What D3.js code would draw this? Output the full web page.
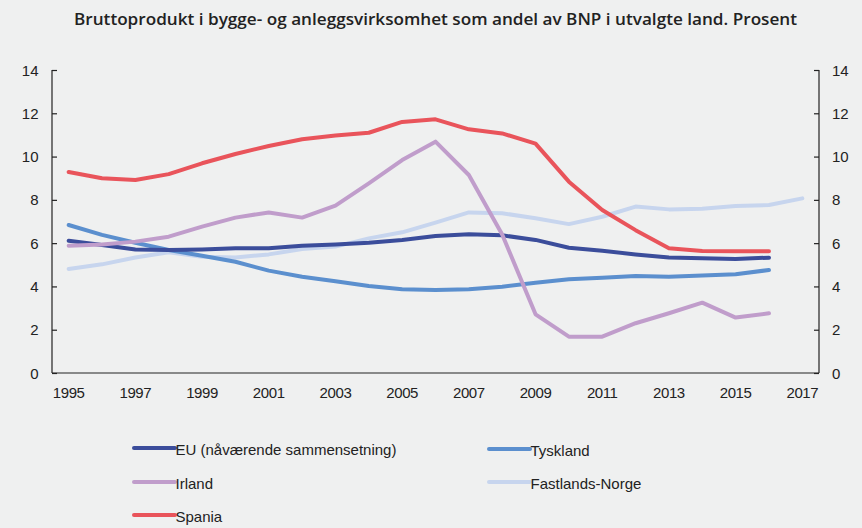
<!DOCTYPE html>
<html><head><meta charset="utf-8">
<script src="https://cdn.jsdelivr.net/npm/d3@7"></script>
<style>
html,body{margin:0;padding:0;background:#eff0f0;}
svg{display:block;}
</style></head>
<body>
<svg id="c" width="862" height="528"></svg>
<script>
const years = d3.range(1995, 2018);
const tickYears = [1995,1997,1999,2001,2003,2005,2007,2009,2011,2013,2015,2017];
const yTicks = [0,2,4,6,8,10,12,14];
const seriesNames = ["EU (nåværende sammensetning)","Tyskland","Irland","Fastlands-Norge","Spania"];
const seriesColors = ["#3b4d9b","#5b8fce","#c09dcb","#c7d5ee","#e9545b"];
const eu = [6.11,5.91,5.71,5.68,5.71,5.76,5.76,5.88,5.94,6.02,6.15,6.33,6.41,6.36,6.15,5.79,5.65,5.48,5.34,5.30,5.27,5.33,null];
const tyskland = [6.84,6.38,6.02,5.68,5.42,5.14,4.73,4.45,4.24,4.02,3.87,3.83,3.87,3.99,4.17,4.33,4.40,4.48,4.45,4.50,4.56,4.76,null];
const irland = [5.88,5.94,6.07,6.30,6.76,7.18,7.42,7.18,7.73,8.76,9.84,10.69,9.15,6.40,2.71,1.68,1.68,2.30,2.76,3.25,2.56,2.76,null];
const norge = [4.81,5.02,5.34,5.58,5.37,5.34,5.48,5.73,5.84,6.22,6.50,6.95,7.42,7.38,7.15,6.88,7.22,7.69,7.56,7.59,7.72,7.76,8.07];
const spania = [9.29,9.00,8.92,9.19,9.69,10.12,10.49,10.80,10.97,11.10,11.60,11.72,11.26,11.07,10.60,8.84,7.53,6.60,5.76,5.64,5.62,5.62,null];
const seriesValues = [eu,tyskland,irland,norge,spania];
const drawOrder = [3,1,0,2,4];

const svg = d3.select("#c");
const L = 52, R = 819, T = 70, B = 373;
const x = d3.scaleBand().domain(years).range([L, R]);
const y = d3.scaleLinear().domain([0,14]).range([B, T]);

svg.append("text").attr("x", 435.5).attr("y", 25).attr("text-anchor","middle")
  .attr("font-family","'Open Sans', sans-serif").attr("font-weight",600)
  .attr("font-size", 17).attr("fill","#222")
  .attr("textLength", 723).attr("lengthAdjust","spacingAndGlyphs")
  .text("Bruttoprodukt i bygge- og anleggsvirksomhet som andel av BNP i utvalgte land. Prosent");

const axisFont = "'Liberation Sans', Arial, sans-serif";
const gl = svg.append("g").attr("transform",`translate(${L},0)`)
  .call(d3.axisRight(y).tickValues(yTicks).tickSize(5).tickFormat(""));
const gr = svg.append("g").attr("transform",`translate(${R},0)`)
  .call(d3.axisLeft(y).tickValues(yTicks).tickSize(5).tickFormat(""));
[gl,gr].forEach(g=>{g.selectAll("path,line").attr("stroke","#222").attr("stroke-width",1.2);});
gl.select(".domain").attr("d",`M0,${T}V${B}`);
gr.select(".domain").attr("d",`M0,${T}V${B}`);

svg.append("g").selectAll("text").data(yTicks).join("text")
  .attr("x", 38.5).attr("y", d=>y(d)+5.5).attr("text-anchor","end")
  .attr("font-family",axisFont).attr("font-size",15).attr("fill","#222").text(d=>d);
svg.append("g").selectAll("text").data(yTicks).join("text")
  .attr("x", 832).attr("y", d=>y(d)+5.5).attr("text-anchor","start")
  .attr("font-family",axisFont).attr("font-size",15).attr("fill","#222").text(d=>d);

const gx = svg.append("g").attr("transform",`translate(0,${B})`)
  .call(d3.axisBottom(x).tickValues(tickYears).tickSize(0).tickPadding(14));
gx.select(".domain").attr("stroke","#222").attr("stroke-width",1.2).attr("d",`M${L},0H${R}`);
gx.selectAll("text").attr("font-family",axisFont).attr("font-size",15)
  .attr("letter-spacing","-0.4").attr("fill","#222");

const line = d3.line().defined(d=>d[1]!=null)
  .x(d=>x(d[0])+x.bandwidth()/2).y(d=>y(d[1]));
drawOrder.forEach(i=>{
  svg.append("path").datum(years.map((yr,j)=>[yr, seriesValues[i][j]]))
    .attr("d", line).attr("fill","none").attr("stroke", seriesColors[i])
    .attr("stroke-width",4).attr("stroke-linejoin","round").attr("stroke-linecap","round");
});

const legendPos = [[134,448],[489,449],[134,482],[489,482],[134,515]];
seriesNames.forEach((n,i)=>{
  const [lx,ly] = legendPos[i];
  svg.append("line").attr("x1",lx).attr("x2",lx+41).attr("y1",ly).attr("y2",ly)
    .attr("stroke",seriesColors[i]).attr("stroke-width",4).attr("stroke-linecap","round");
  svg.append("text").attr("x",lx+41.5).attr("y",ly+7).attr("font-family",axisFont)
    .attr("font-size",15).attr("fill","#222").text(n);
});
</script>
</body></html>
